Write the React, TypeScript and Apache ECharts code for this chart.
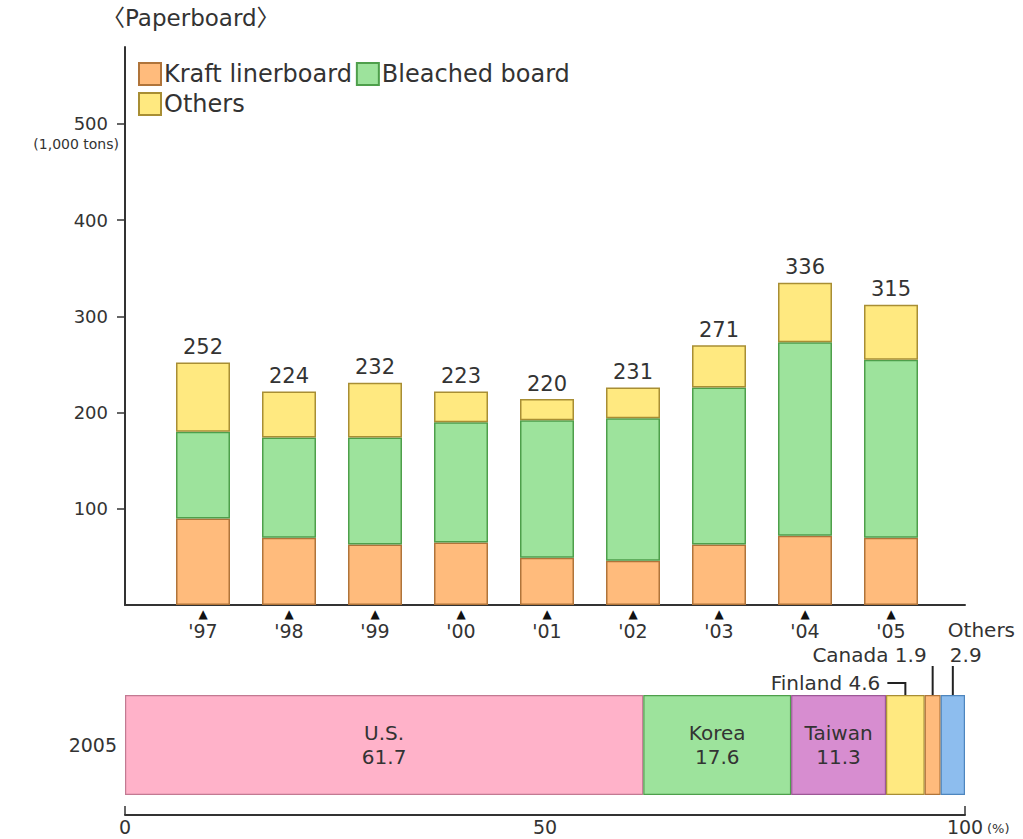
import React, { useEffect, useRef } from "react";
import * as echarts from "echarts";

const years = ["'97", "'98", "'99", "'00", "'01", "'02", "'03", "'04", "'05"];
const kraft = [90, 70, 63, 65, 49, 46, 63, 72, 70];
const bleached = [90, 104, 111, 125, 143, 148, 163, 201, 185];
const others = [72, 48, 57, 32, 22, 32, 44, 62, 57];
const totals = [252, 224, 232, 223, 220, 231, 271, 336, 315];
const yTicks = [100, 200, 300, 400, 500];

const shareYear = ["2005"];
const countries = ["U.S.", "Korea", "Taiwan", "Finland", "Canada", "Others"];
const shares = [61.7, 17.6, 11.3, 4.6, 1.9, 2.9];
const pctTicks = [0, 50, 100];

const FONT = "'DejaVu Sans', 'Noto Sans CJK JP', sans-serif";
const TXT = "#333";

const topColors = [
  { fill: "#FFBB7C", border: "#B0743A" },
  { fill: "#9DE39C", border: "#4E9F4B" },
  { fill: "#FFE980", border: "#A88E34" },
];
const shareColors = [
  { fill: "#FFB2C9", border: "#C27A92" },
  { fill: "#9DE39C", border: "#4E9F4B" },
  { fill: "#D78DD0", border: "#9C5896" },
  { fill: "#FFE980", border: "#A88E34" },
  { fill: "#FFBB7C", border: "#B0743A" },
  { fill: "#8DBDEE", border: "#4E86BE" },
];

export default function App() {
  const ref = useRef<HTMLDivElement>(null);

  useEffect(() => {
    if (!ref.current) return;
    const chart = echarts.init(ref.current, null, { renderer: "svg" });

    const topSeries = [
      { name: "Kraft linerboard", data: kraft, c: topColors[0] },
      { name: "Bleached board", data: bleached, c: topColors[1] },
      { name: "Others", data: others, c: topColors[2] },
    ].map((s, i) => ({
      type: "bar",
      name: s.name,
      xAxisIndex: 0,
      yAxisIndex: 0,
      stack: "total",
      barWidth: 54,
      data: s.data,
      itemStyle: { color: s.c.fill, borderColor: s.c.border, borderWidth: 1.5 },
      label:
        i === 2
          ? {
              show: true,
              position: "top",
              distance: 5,
              fontFamily: FONT,
              fontSize: 21,
              color: TXT,
              formatter: (p: any) => String(totals[p.dataIndex]),
            }
          : { show: false },
    }));

    const shareSeries = countries.map((name, i) => ({
      type: "bar",
      name: "share_" + name,
      xAxisIndex: 1,
      yAxisIndex: 1,
      stack: "share",
      barWidth: 100,
      data: [shares[i]],
      itemStyle: { color: shareColors[i].fill, borderColor: shareColors[i].border, borderWidth: 1.2 },
      label:
        i < 3
          ? {
              show: true,
              position: "inside",
              fontFamily: FONT,
              fontSize: 20,
              lineHeight: 24,
              color: TXT,
              formatter: () => `${name}\n${shares[i]}`,
            }
          : { show: false },
    }));

    const legendBase = {
      left: 138,
      padding: 0,
      itemWidth: 22,
      itemHeight: 22,
      itemGap: 4,
      icon: "rect",
      textStyle: { fontFamily: FONT, fontSize: 24, color: TXT, padding: [0, 0, 0, -2] },
    };

    const option: any = {
      animation: false,
      backgroundColor: "#fff",
      textStyle: { fontFamily: FONT },
      grid: [
        { left: 160, width: 774, top: 47, height: 558 },
        { left: 125, width: 840, top: 695, height: 100 },
        { left: 125, width: 840, top: 47, height: 558 },
      ],
      legend: [
        { ...legendBase, top: 62, data: ["Kraft linerboard", "Bleached board"] },
        { ...legendBase, top: 92, data: ["Others"] },
      ],
      xAxis: [
        {
          gridIndex: 0,
          type: "category",
          data: years,
          axisLine: { show: false },
          axisTick: { show: false },
          axisLabel: {
            margin: 2,
            formatter: (v: string) => `{t|▲}\n{l|${v}}`,
            rich: {
              t: { fontSize: 12, lineHeight: 14, color: "#111", fontFamily: FONT },
              l: { fontSize: 19, lineHeight: 20, color: TXT, fontFamily: FONT },
            },
          },
        },
        {
          gridIndex: 1,
          type: "value",
          min: 0,
          max: 100,
          interval: 50,
          offset: 20,
          axisLine: { show: true, lineStyle: { color: TXT, width: 2 } },
          axisTick: {
            show: true,
            inside: true,
            length: 9,
            customValues: [0, 100],
            lineStyle: { color: TXT, width: 1.5 },
          },
          axisLabel: {
            show: true,
            margin: 2,
            fontSize: 19,
            color: TXT,
            fontFamily: FONT,
            customValues: pctTicks,
          },
          splitLine: { show: false },
        },
        {
          gridIndex: 2,
          type: "value",
          min: 0,
          max: 1,
          axisLine: { show: true, lineStyle: { color: TXT, width: 2 } },
          axisTick: { show: false },
          axisLabel: { show: false },
          splitLine: { show: false },
        },
      ],
      yAxis: [
        {
          gridIndex: 0,
          type: "value",
          min: 0,
          max: 580,
          interval: 100,
          offset: 35,
          axisLine: { show: true, lineStyle: { color: TXT, width: 2 } },
          axisTick: { show: true, length: 8, customValues: yTicks, lineStyle: { color: TXT, width: 1.5 } },
          axisLabel: {
            margin: 17,
            fontSize: 18,
            color: TXT,
            fontFamily: FONT,
            customValues: yTicks,
            formatter: (v: number) => (yTicks.includes(v) ? String(v) : ""),
          },
          splitLine: { show: false },
        },
        {
          gridIndex: 1,
          type: "category",
          data: shareYear,
          axisLine: { show: false },
          axisTick: { show: false },
          axisLabel: { margin: 8, fontSize: 19, color: TXT, fontFamily: FONT },
        },
        { gridIndex: 2, type: "value", show: false },
      ],
      series: [...topSeries, ...shareSeries],
    };

    chart.setOption(option);

    // leader lines for the small segments, positioned through the axis scale
    const mids: number[] = [];
    let acc = 0;
    shares.forEach((s) => {
      mids.push(acc + s / 2);
      acc += s;
    });
    const px = (v: number) => chart.convertToPixel({ gridIndex: 1 }, [v, 0]) as number[];
    const [xF, yMid] = px(mids[3]);
    const [xC] = px(mids[4]);
    const [xO] = px(mids[5]);

    const lineStyle = { stroke: "#222", lineWidth: 2, fill: null };
    const textBase = { fontFamily: FONT, fill: TXT };

    chart.setOption({
      graphic: [
        {
          type: "text",
          left: 102,
          top: 6,
          style: { ...textBase, text: "〈Paperboard〉", fontSize: 23 },
        },
        {
          type: "text",
          x: 119,
          y: 144,
          style: { ...textBase, text: "(1,000 tons)", fontSize: 14, align: "right", verticalAlign: "middle" },
        },
        {
          type: "text",
          x: 987,
          y: 828,
          style: { ...textBase, text: "(%)", fontSize: 13, align: "left", verticalAlign: "middle" },
        },
        {
          type: "text",
          x: xF - 25,
          y: 683,
          style: { ...textBase, text: `${countries[3]} ${shares[3]}`, fontSize: 20, align: "right", verticalAlign: "middle" },
        },
        {
          type: "text",
          x: xC - 6,
          y: 655,
          style: { ...textBase, text: `${countries[4]} ${shares[4]}`, fontSize: 20, align: "right", verticalAlign: "middle" },
        },
        {
          type: "text",
          x: xO - 5,
          y: 630,
          style: { ...textBase, text: countries[5], fontSize: 20, align: "left", verticalAlign: "middle" },
        },
        {
          type: "text",
          x: xO - 3,
          y: 655,
          style: { ...textBase, text: String(shares[5]), fontSize: 20, align: "left", verticalAlign: "middle" },
        },
        {
          type: "polyline",
          shape: { points: [[xF - 18, 683], [xF, 683], [xF, yMid]] },
          style: lineStyle,
        },
        {
          type: "polyline",
          shape: { points: [[xC, 666], [xC, yMid]] },
          style: lineStyle,
        },
        {
          type: "polyline",
          shape: { points: [[xO, 666], [xO, yMid]] },
          style: lineStyle,
        },
      ],
    });

    return () => chart.dispose();
  }, []);

  return (
    <div
      ref={ref}
      style={{ position: "absolute", left: 0, top: 0, width: 1023, height: 839, background: "#fff" }}
    />
  );
}
